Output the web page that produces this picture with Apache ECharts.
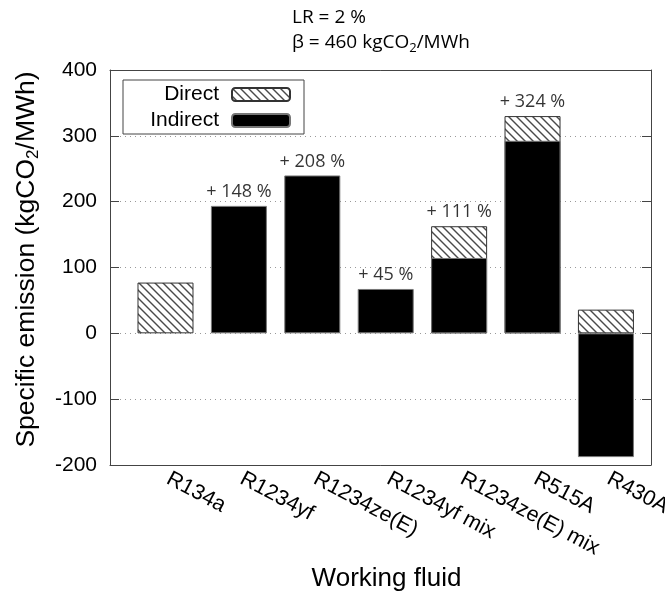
<!DOCTYPE html>
<html>
<head>
<meta charset="utf-8">
<script src="https://cdn.jsdelivr.net/npm/echarts@6/dist/echarts.min.js"></script>
<style>
html,body{margin:0;padding:0;background:#fff;}
#chart{width:665px;height:594px;}
</style>
</head>
<body>
<div id="chart"></div>
<script>
// ---- data ----
var categories = ['R134a', 'R1234yf', 'R1234ze(E)', 'R1234yf mix', 'R1234ze(E) mix', 'R515A', 'R430A'];
var indirect = [null, 193.6, 239.8, 67.4, 114.5, 292.5, -188];
var direct = [77.1, null, null, null, 48.2, 37.5, 36];
var increaseLabels = ['', '+ 148 %', '+ 208 %', '+ 45 %', '+ 111 %', '+ 324 %', ''];
var yTicks = { min: -200, max: 400, step: 100 };

// ---- hatch pattern ----
function makeHatch() {
  var c = document.createElement('canvas');
  c.width = 8; c.height = 8;
  var g = c.getContext('2d');
  g.fillStyle = '#ffffff';
  g.fillRect(0, 0, 8, 8);
  g.strokeStyle = '#4a4a4a';
  g.lineWidth = 1.4;
  [-8, 0, 8].forEach(function (k) {
    g.beginPath();
    g.moveTo(-1, -1 + k);
    g.lineTo(9, 9 + k);
    g.stroke();
  });
  return c;
}
var hatch = { image: makeHatch(), repeat: 'repeat' };

var chart = echarts.init(document.getElementById('chart'), null, { renderer: 'canvas' });

var xMin = -0.756, xMax = 6.614;
var idx = categories.map(function (_, i) { return i; });

// direct part sits on top of the positive indirect part: drawn as the full
// positive column (indirect+ + direct), with the indirect column drawn over it
function positiveBase(i) { return Math.max(0, indirect[i] || 0); }
var indData = indirect.map(function (v, i) { return [i, v == null ? '-' : v]; });
var dirData = direct.map(function (v, i) { return [i, v == null ? '-' : positiveBase(i) + v]; });
var totData = [];
categories.forEach(function (_, i) {
  if (increaseLabels[i]) {
    totData.push([i, positiveBase(i) + (direct[i] || 0)]);
  }
});
var labelByIdx = {};
increaseLabels.forEach(function (l, i) { labelByIdx[i] = l; });

var axisFont = 'Liberation Sans';
var frameColor = '#444';

chart.setOption({
  animation: false,
  backgroundColor: '#ffffff',
  title: {
    text: '{a|LR = 2 %}\n{a|β = 460 kgCO}{s|2}{a|/MWh}',
    left: 287,
    top: 0,
    textStyle: {
      rich: {
        a: { fontFamily: 'Open Sans', fontSize: 19, lineHeight: 25, color: '#000', fontWeight: 'normal' },
        s: { fontFamily: 'Open Sans', fontSize: 13, lineHeight: 12, verticalAlign: 'bottom', color: '#000', fontWeight: 'normal' }
      }
    }
  },
  legend: {
    data: ['Direct', 'Indirect'],
    orient: 'vertical',
    left: 123,
    top: 80,
    align: 'right',
    itemWidth: 58,
    itemHeight: 13,
    itemGap: 5,
    padding: [4, 13, 3, 16],
    borderColor: '#444',
    borderWidth: 1,
    backgroundColor: '#fff',
    textStyle: { fontFamily: axisFont, fontSize: 21, color: '#000', width: 80, align: 'right', lineHeight: 21, padding: [0, 8, 0, 0] },
    selectedMode: false
  },
  grid: { left: 110, right: 14, top: 70, bottom: 129, containLabel: false, outerBoundsMode: 'none' },
  xAxis: [
    {
      type: 'value', min: xMin, max: xMax, position: 'bottom',
      axisLine: { show: true, onZero: false, lineStyle: { color: frameColor, width: 1 } },
      axisTick: { show: false },
      splitLine: { show: false },
      axisLabel: {
        customValues: idx,
        rotate: -28,
        margin: 11,
        padding: [0, 0, 0, 3],
        fontFamily: axisFont, fontSize: 21.5, color: '#000',
        formatter: function (v) { return categories[Math.round(v)]; }
      },
      name: 'Working fluid',
      nameLocation: 'middle',
      nameGap: 97,
      nameTextStyle: { fontFamily: axisFont, fontSize: 26, color: '#000', padding: [0, 0, 0, 12] }
    },
    {
      type: 'value', min: xMin, max: xMax, position: 'top',
      axisLine: { show: true, onZero: false, lineStyle: { color: frameColor, width: 1 } },
      axisTick: { show: false }, axisLabel: { show: false }, splitLine: { show: false }
    }
  ],
  yAxis: [
    {
      type: 'value', min: yTicks.min, max: yTicks.max, interval: yTicks.step, position: 'left',
      axisLine: { show: true, onZero: false, lineStyle: { color: frameColor, width: 1 } },
      axisTick: { show: true, inside: true, length: 9, lineStyle: { color: frameColor } },
      axisLabel: { margin: 13, fontFamily: axisFont, fontSize: 21, color: '#000' },
      splitLine: { show: true, lineStyle: { color: '#999', width: 1, type: [1, 4] } },
      name: '{a|Specific emission (kgCO}{s|2}{a|/MWh)}',
      nameLocation: 'middle',
      nameGap: 68,
      nameTextStyle: {
        padding: [0, 0, 0, 16],
        rich: {
          a: { fontFamily: axisFont, fontSize: 26.5, lineHeight: 30, color: '#000' },
          s: { fontFamily: axisFont, fontSize: 17, lineHeight: 18, verticalAlign: 'bottom', color: '#000' }
        }
      }
    },
    {
      type: 'value', min: yTicks.min, max: yTicks.max, interval: yTicks.step, position: 'right',
      axisLine: { show: true, onZero: false, lineStyle: { color: frameColor, width: 1 } },
      axisTick: { show: true, inside: true, length: 9, lineStyle: { color: frameColor } },
      axisLabel: { show: false },
      splitLine: { show: false }
    }
  ],
  series: [
    {
      name: 'Direct', type: 'bar', barWidth: 56, barGap: '-100%',
      xAxisIndex: 0, yAxisIndex: 0, z: 2,
      itemStyle: { color: hatch, borderColor: '#333', borderWidth: 1 },
      data: dirData
    },
    {
      name: 'Indirect', type: 'bar', barWidth: 56, barGap: '-100%',
      xAxisIndex: 0, yAxisIndex: 0, z: 3,
      itemStyle: { color: '#000', borderColor: '#777', borderWidth: 1 },
      data: indData
    },
    {
      name: 'increase', type: 'scatter', symbolSize: 0,
      xAxisIndex: 0, yAxisIndex: 0,
      silent: true,
      label: {
        show: true, position: 'top', distance: 5,
        fontFamily: 'Open Sans', fontSize: 18, color: '#000',
        formatter: function (p) { return labelByIdx[p.value[0]]; }
      },
      data: totData
    }
  ]
});
</script>
</body>
</html>
